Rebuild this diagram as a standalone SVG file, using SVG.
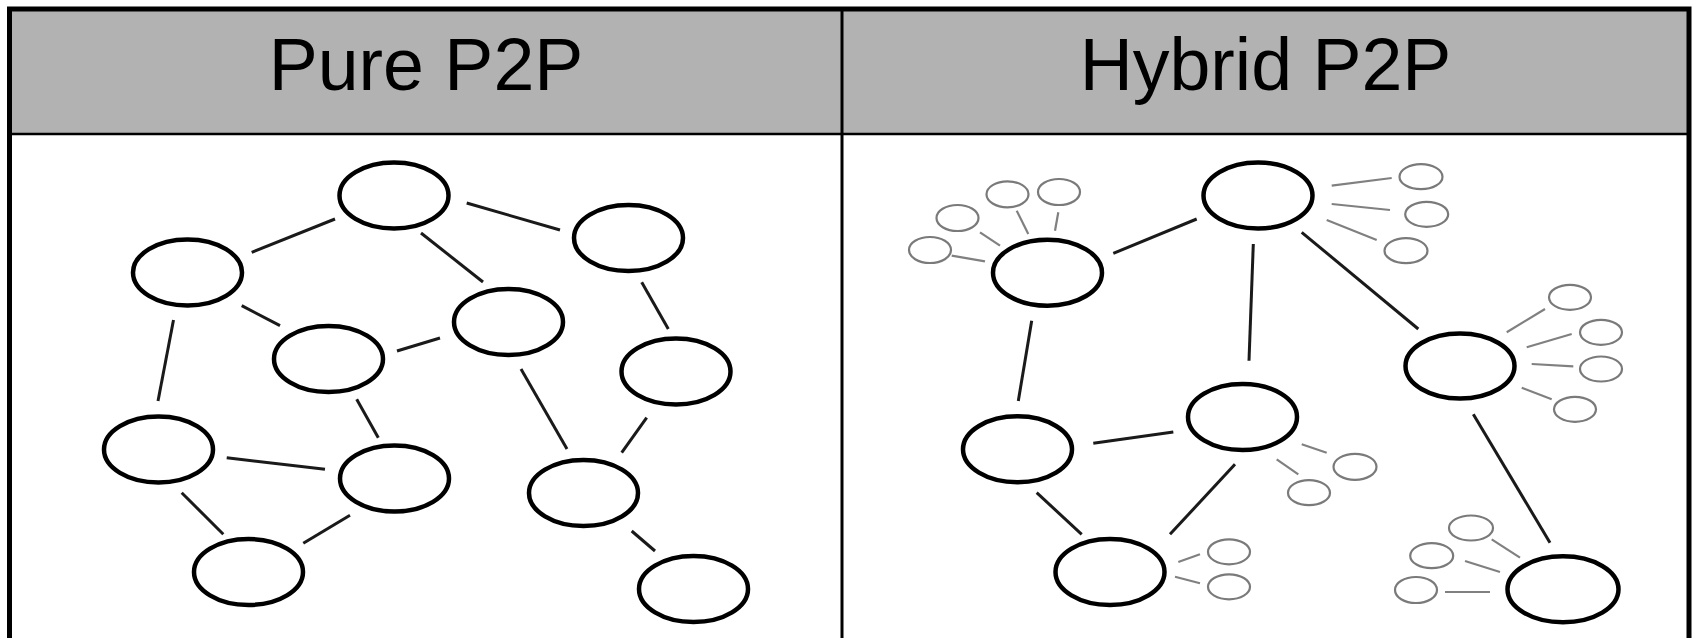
<svg xmlns="http://www.w3.org/2000/svg" width="1694" height="638" viewBox="0 0 1694 638">
<style>
.hdr{fill:#b2b2b2}
.ttl{font-family:"Liberation Sans",Arial,sans-serif;font-size:73.5px;fill:#000;text-anchor:middle}
.big{fill:none;stroke:#000;stroke-width:4.5}
.sm{fill:none;stroke:#7a7a7a;stroke-width:2.2}
.e{stroke:#1a1a1a;stroke-width:3;stroke-linecap:butt}
.es{stroke:#808080;stroke-width:2.2}
</style>
<rect x="0" y="0" width="1694" height="638" fill="#fff"/>
<g id="table">
<rect class="hdr" x="9.5" y="9" width="1679.5" height="125"/>
<line x1="9.5" y1="134" x2="1689" y2="134" stroke="#000" stroke-width="2.5"/>
<line x1="842" y1="9" x2="842" y2="640" stroke="#000" stroke-width="3"/>
<path d="M9.5 640 V9 H1689 V640" fill="none" stroke="#000" stroke-width="5"/>
<text class="ttl" x="426" y="90">Pure P2P</text>
<text class="ttl" x="1265.5" y="90">Hybrid P2P</text>
</g>
<g id="connectors">
<line class="e" x1="251.7" y1="252.3" x2="335" y2="219"/>
<line class="e" x1="241.7" y1="305.7" x2="280" y2="325.7"/>
<line class="e" x1="173.5" y1="320" x2="158" y2="401"/>
<line class="e" x1="397" y1="351" x2="440" y2="338"/>
<line class="e" x1="466.7" y1="203" x2="560" y2="230"/>
<line class="e" x1="421" y1="233" x2="483" y2="282"/>
<line class="e" x1="641.7" y1="282.3" x2="668.3" y2="329"/>
<line class="e" x1="521" y1="369" x2="567" y2="449"/>
<line class="e" x1="356.7" y1="399.3" x2="378.3" y2="437.7"/>
<line class="e" x1="226.7" y1="457.7" x2="325" y2="469.3"/>
<line class="e" x1="181.7" y1="492.7" x2="223.3" y2="534.3"/>
<line class="e" x1="350" y1="515.3" x2="303.3" y2="543.3"/>
<line class="e" x1="646.7" y1="417.7" x2="621.7" y2="452.7"/>
<line class="e" x1="631.7" y1="531" x2="655" y2="551"/>

<line class="e" x1="1113.3" y1="253.3" x2="1196.7" y2="219"/>
<line class="e" x1="1253.3" y1="244" x2="1249" y2="360.7"/>
<line class="e" x1="1031.7" y1="320.7" x2="1018.3" y2="401"/>
<line class="e" x1="1301.7" y1="232.3" x2="1418.3" y2="329"/>
<line class="e" x1="1473.3" y1="414.3" x2="1550" y2="542.7"/>
<line class="e" x1="1093.3" y1="443.3" x2="1173.3" y2="432"/>
<line class="e" x1="1036.7" y1="492.7" x2="1081.7" y2="534.3"/>
<line class="e" x1="1235" y1="464.3" x2="1170" y2="534.3"/>

<line class="es" x1="951.7" y1="255.7" x2="985" y2="261.3"/>
<line class="es" x1="980" y1="232.3" x2="1000" y2="245.7"/>
<line class="es" x1="1016.7" y1="210.7" x2="1028.3" y2="234"/>
<line class="es" x1="1058.3" y1="212.3" x2="1055" y2="230.7"/>
<line class="es" x1="1331.7" y1="185.7" x2="1391.7" y2="178"/>
<line class="es" x1="1331.7" y1="204" x2="1390" y2="210"/>
<line class="es" x1="1326.7" y1="220" x2="1376.7" y2="240"/>
<line class="es" x1="1506.7" y1="332.3" x2="1545" y2="309"/>
<line class="es" x1="1526.7" y1="347.3" x2="1571.7" y2="334"/>
<line class="es" x1="1531.7" y1="364" x2="1573.3" y2="366.3"/>
<line class="es" x1="1521.7" y1="387.7" x2="1551.7" y2="399.3"/>
<line class="es" x1="1301.7" y1="444.3" x2="1326.7" y2="452.7"/>
<line class="es" x1="1276.7" y1="459.3" x2="1298.3" y2="474.3"/>
<line class="es" x1="1491.7" y1="539.3" x2="1520" y2="557.7"/>
<line class="es" x1="1465" y1="561" x2="1500" y2="572"/>
<line class="es" x1="1445" y1="592" x2="1490" y2="592"/>
<line class="es" x1="1178.3" y1="562" x2="1200" y2="554.3"/>
<line class="es" x1="1175" y1="576.7" x2="1200" y2="583.3"/>
</g>
<g id="pure-b"><ellipse class="big" cx="394" cy="195.5" rx="54.5" ry="33"/></g>
<g id="pure-a"><ellipse class="big" cx="187.5" cy="272.5" rx="54.5" ry="33"/></g>
<g id="pure-e"><ellipse class="big" cx="628.5" cy="238" rx="54.5" ry="33"/></g>
<g id="pure-d"><ellipse class="big" cx="508.5" cy="322" rx="54.5" ry="33"/></g>
<g id="pure-c"><ellipse class="big" cx="328.5" cy="359" rx="54.5" ry="33"/></g>
<g id="pure-f"><ellipse class="big" cx="676" cy="371.5" rx="54.5" ry="33"/></g>
<g id="pure-g"><ellipse class="big" cx="158.5" cy="449.5" rx="54.5" ry="33"/></g>
<g id="pure-h"><ellipse class="big" cx="394.5" cy="478.5" rx="54.5" ry="33"/></g>
<g id="pure-j"><ellipse class="big" cx="583.5" cy="493" rx="54.5" ry="33"/></g>
<g id="pure-i"><ellipse class="big" cx="248.5" cy="572" rx="54.5" ry="33"/></g>
<g id="pure-k"><ellipse class="big" cx="693.5" cy="589" rx="54.5" ry="33"/></g>

<g id="hyb-q">
<ellipse class="big" cx="1258" cy="195.5" rx="54.5" ry="33"/>
<ellipse class="sm" cx="1421" cy="176.7" rx="21.5" ry="12.5"/>
<ellipse class="sm" cx="1426.7" cy="214.3" rx="21.5" ry="12.5"/>
<ellipse class="sm" cx="1406" cy="250.7" rx="21.5" ry="12.5"/>
</g>
<g id="hyb-p">
<ellipse class="big" cx="1047.5" cy="272.7" rx="54.5" ry="33"/>
<ellipse class="sm" cx="930" cy="250" rx="21" ry="13"/>
<ellipse class="sm" cx="957.5" cy="218" rx="21" ry="13"/>
<ellipse class="sm" cx="1007.5" cy="194.3" rx="21" ry="13"/>
<ellipse class="sm" cx="1059" cy="192" rx="21" ry="13"/>
</g>
<g id="hyb-t">
<ellipse class="big" cx="1460" cy="366" rx="54.5" ry="32.5"/>
<ellipse class="sm" cx="1570" cy="297.3" rx="21" ry="12.5"/>
<ellipse class="sm" cx="1601" cy="332.3" rx="21" ry="12.5"/>
<ellipse class="sm" cx="1601" cy="369" rx="21" ry="12.5"/>
<ellipse class="sm" cx="1575" cy="409.3" rx="21" ry="12.5"/>
</g>
<g id="hyb-r">
<ellipse class="big" cx="1242.5" cy="417" rx="54.5" ry="33"/>
<ellipse class="sm" cx="1355" cy="466.8" rx="21.5" ry="13"/>
<ellipse class="sm" cx="1309" cy="492.7" rx="21" ry="12.5"/>
</g>
<g id="hyb-s"><ellipse class="big" cx="1017.5" cy="449.3" rx="54.5" ry="33"/></g>
<g id="hyb-v">
<ellipse class="big" cx="1110" cy="572" rx="54.5" ry="33"/>
<ellipse class="sm" cx="1229" cy="551.8" rx="21" ry="12.5"/>
<ellipse class="sm" cx="1229" cy="586.8" rx="21" ry="12.5"/>
</g>
<g id="hyb-u">
<ellipse class="big" cx="1563" cy="589.3" rx="55.5" ry="33"/>
<ellipse class="sm" cx="1471" cy="528" rx="22" ry="12.5"/>
<ellipse class="sm" cx="1431.7" cy="555.7" rx="21.5" ry="12.5"/>
<ellipse class="sm" cx="1416" cy="590" rx="21" ry="13"/>
</g>
</svg>
